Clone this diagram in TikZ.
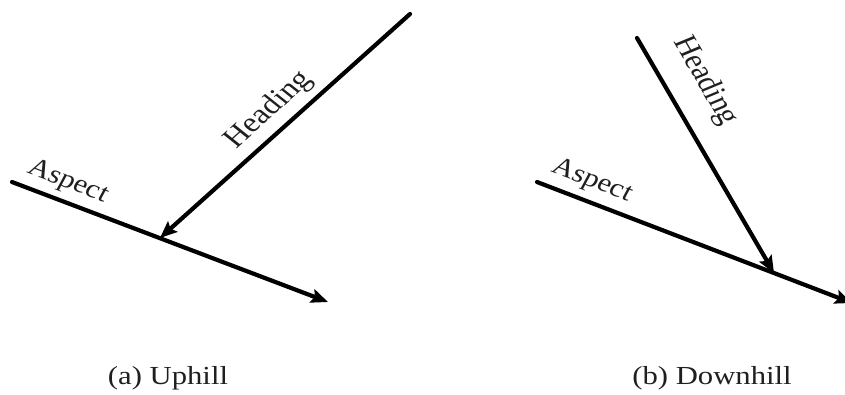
\documentclass[tikz,border=0pt]{standalone}
\usepackage{fontspec}
\setmainfont{Liberation Serif}
\usetikzlibrary{arrows.meta}
\tikzset{
  vec/.style={line width=4.2pt, line cap=round, -{Stealth[length=17pt,width=14pt,inset=3pt]}},
  lbl/.style={text=black!88, inner sep=0pt, xscale=1.18},
  captxt/.style={font=\fontsize{26}{26}\selectfont, text=black!88, inner sep=0pt, xscale=1.18}
}
\begin{document}
\begin{tikzpicture}[x=1pt,y=-1pt]
\useasboundingbox (0,0) rectangle (845,395);
% (a) Uphill
\coordinate (a1) at (12,182);
\coordinate (a2) at (328,302);
\coordinate (h1) at (410,14);
\coordinate (h2) at (160,238);
\draw[vec] (a1) -- (a2);
\draw[vec] (h1) -- (h2);
\node[lbl, font=\fontsize{26}{26}\selectfont, rotate=-24.4] (asa) at (68,182) {Aspect};
\node[lbl, font=\fontsize{28}{28}\selectfont, rotate=46.7] (hda) at (269,110) {Heading};
\node[captxt] (capa) at (168,378) {(a) Uphill};
% (b) Downhill
\coordinate (b1) at (537,182);
\coordinate (b2) at (852,303);
\coordinate (g1) at (637,38);
\coordinate (g2) at (774,273);
\draw[vec] (b1) -- (b2);
\draw[vec] (g1) -- (g2);
\node[lbl, font=\fontsize{26}{26}\selectfont, rotate=-24.4] (asb) at (592,181) {Aspect};
\node[lbl, font=\fontsize{28}{28}\selectfont, rotate=-63.9] (hdb) at (705,81) {Heading};
\node[captxt] (capb) at (712,378) {(b) Downhill};
\end{tikzpicture}
\end{document}
